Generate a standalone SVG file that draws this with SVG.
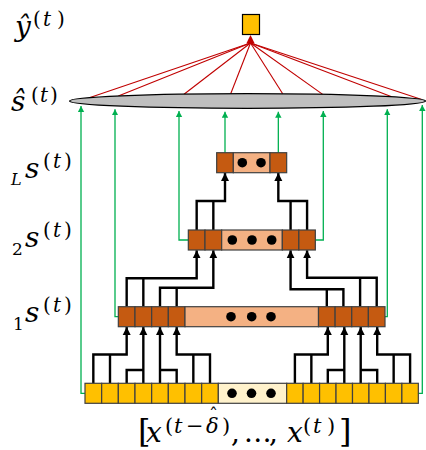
<svg xmlns="http://www.w3.org/2000/svg" width="426" height="450" viewBox="0 0 426 450">
<style>
.cy{fill:#FFC000;stroke:#404040;stroke-width:1.2}
.cyl{fill:#FFF2CC;stroke:#404040;stroke-width:1.2}
.co{fill:#C55A11;stroke:#404040;stroke-width:1.2}
.col{fill:#F4B183;stroke:#404040;stroke-width:1.2}
.dot{fill:#000}
.wire{stroke:#000;stroke-width:2.4;fill:none;stroke-linejoin:miter}
.arr{marker-end:url(#ab)}
.green{stroke:#00B050;stroke-width:1.3;fill:none;marker-end:url(#ag)}
.red{stroke:#C00000;stroke-width:1.1;fill:none}
.m{font-family:"DejaVu Serif","Liberation Serif",serif;fill:#000}
.i{font-style:italic}
.sup{font-size:20px}
</style>
<defs>
<marker id="ab" markerUnits="userSpaceOnUse" markerWidth="9" markerHeight="9" refX="8" refY="4" orient="auto" viewBox="0 0 9 8">
<path d="M0,0 L8,4 L0,8 z" fill="#000"/>
</marker>
<marker id="ag" markerUnits="userSpaceOnUse" markerWidth="7" markerHeight="7" refX="6" refY="3.2" orient="auto" viewBox="0 0 7 6.4">
<path d="M0,0 L6,3.2 L0,6.4 z" fill="#00B050"/>
</marker>
</defs>

<g id="connectors">
<g class="red">
<path d="M250.5,43 L90,97.6"/>
<path d="M250.5,43 L118.3,96"/>
<path d="M250.5,43 L184,94.2"/>
<path d="M250.5,43 L230.7,93.7"/>
<path d="M250.5,43 L282.7,93.8"/>
<path d="M250.5,43 L322.7,94.4"/>
<path d="M250.5,43 L391.7,96.7"/>
<path d="M250.5,43 L421.7,99.5"/>
</g>
<polygon points="250.5,35 246.3,43.5 254.7,43.5" fill="#C00000"/>
<path class="green" d="M85,393.3 H81 V106"/>
<path class="green" d="M118.33,316.7 H115 V109.3"/>
<path class="green" d="M188.33,240 H179 V111"/>
<path class="green" d="M225,152.7 V111.7"/>
<path class="green" d="M278.33,152.7 V111.7"/>
<path class="green" d="M315.33,240 H323.3 V111"/>
<path class="green" d="M385,316.7 H387.3 V109.3"/>
<path class="green" d="M418.33,393.3 H422.3 V105"/>
<path class="wire arr" d="M93.33,383.3 V354.5 H126.67 V327"/>
<path class="wire" d="M110,383.3 V354.5"/>
<path class="wire" d="M126.67,383.3 V370 H143.33"/>
<path class="wire arr" d="M143.33,383.3 V327"/>
<path class="wire" d="M176.67,383.3 V370 H160"/>
<path class="wire arr" d="M160,383.3 V327"/>
<path class="wire arr" d="M210,383.3 V354.5 H176.67 V327"/>
<path class="wire" d="M193.33,383.3 V354.5"/>
<path class="wire arr" d="M294.9,383.3 V354.5 H327.8 V327"/>
<path class="wire" d="M311.35,383.3 V354.5"/>
<path class="wire" d="M327.8,383.3 V370 H344.3"/>
<path class="wire arr" d="M344.3,383.3 V327"/>
<path class="wire" d="M377.2,383.3 V370 H360.7"/>
<path class="wire arr" d="M360.7,383.3 V327"/>
<path class="wire arr" d="M410.1,383.3 V354.5 H377.2 V327"/>
<path class="wire" d="M393.65,383.3 V354.5"/>
<path class="wire arr" d="M126.67,306.7 V278.3 H196.67 V250.3"/>
<path class="wire" d="M143.33,306.7 V278.3"/>
<path class="wire arr" d="M160,306.7 V287.7 H213.33 V250.3"/>
<path class="wire" d="M176.67,306.7 V287.7"/>
<path class="wire arr" d="M343.4,306.7 V289.3 H290.58 V250.3"/>
<path class="wire" d="M326.8,306.7 V289.3"/>
<path class="wire arr" d="M376.7,306.7 V277.7 H307.08 V250.3"/>
<path class="wire" d="M360.1,306.7 V277.7"/>
<path class="wire arr" d="M196.67,230 V201 H225 V173"/>
<path class="wire" d="M213.33,230 V201"/>
<path class="wire arr" d="M307.08,230 V201 H278.33 V173"/>
<path class="wire" d="M290.58,230 V201"/>
</g>

<g id="y-hat">
<rect x="242.5" y="14.5" width="17" height="20" fill="#FFC000" stroke="#000" stroke-width="1.2"/>
<text class="m i" x="15" y="36" font-size="28">ŷ</text>
<text class="m sup" y="26"><tspan x="33">(</tspan><tspan class="i" x="43">t</tspan><tspan x="57">)</tspan></text>
</g>

<g id="s-hat">
<ellipse cx="247.5" cy="101" rx="178" ry="7.3" fill="#BFBFBF" stroke="#000" stroke-width="1.3"/>
<text class="m i" x="11" y="111" font-size="28">ŝ</text>
<text class="m sup" y="102"><tspan x="31">(</tspan><tspan class="i" x="40">t</tspan><tspan x="50">)</tspan></text>
</g>

<g id="level-L">
<rect class="co" x="216.67" y="152.7" width="16.66" height="20"/>
<rect class="col" x="233.33" y="152.7" width="36.67" height="20"/>
<rect class="co" x="270" y="152.7" width="16.67" height="20"/>
<circle class="dot" cx="242.3" cy="162.7" r="4.8"/>
<circle class="dot" cx="261" cy="162.7" r="4.8"/>
<text class="m i" x="11" y="185" font-size="16">L</text>
<text class="m i" x="25" y="178" font-size="28">s</text>
<text class="m sup" y="168"><tspan x="43">(</tspan><tspan class="i" x="53">t</tspan><tspan x="64">)</tspan></text>
</g>

<g id="level-2">
<rect class="co" x="188.33" y="230" width="16.67" height="20"/>
<rect class="co" x="205" y="230" width="16.67" height="20"/>
<rect class="col" x="221.67" y="230" width="60.66" height="20"/>
<rect class="co" x="282.33" y="230" width="16.5" height="20"/>
<rect class="co" x="298.83" y="230" width="16.5" height="20"/>
<circle class="dot" cx="232.3" cy="240" r="4.8"/>
<circle class="dot" cx="252" cy="240" r="4.8"/>
<circle class="dot" cx="271.7" cy="240" r="4.8"/>
<text class="m" x="12" y="255" font-size="17">2</text>
<text class="m i" x="25" y="247" font-size="28">s</text>
<text class="m sup" y="237"><tspan x="43">(</tspan><tspan class="i" x="53">t</tspan><tspan x="64">)</tspan></text>
</g>

<g id="level-1">
<rect class="co" x="118.33" y="306.7" width="16.67" height="20"/>
<rect class="co" x="135" y="306.7" width="16.67" height="20"/>
<rect class="co" x="151.67" y="306.7" width="16.66" height="20"/>
<rect class="co" x="168.33" y="306.7" width="16.67" height="20"/>
<rect class="col" x="185" y="306.7" width="133.5" height="20"/>
<rect class="co" x="318.5" y="306.7" width="16.625" height="20"/>
<rect class="co" x="335.125" y="306.7" width="16.625" height="20"/>
<rect class="co" x="351.75" y="306.7" width="16.625" height="20"/>
<rect class="co" x="368.375" y="306.7" width="16.625" height="20"/>
<circle class="dot" cx="231" cy="316.7" r="4.8"/>
<circle class="dot" cx="251.7" cy="316.7" r="4.8"/>
<circle class="dot" cx="271" cy="316.7" r="4.8"/>
<text class="m" x="13" y="330" font-size="17">1</text>
<text class="m i" x="25" y="322" font-size="28">s</text>
<text class="m sup" y="312"><tspan x="43">(</tspan><tspan class="i" x="53">t</tspan><tspan x="64">)</tspan></text>
</g>

<g id="input">
<rect class="cy" x="85" y="383.3" width="16.67" height="20"/>
<rect class="cy" x="101.67" y="383.3" width="16.66" height="20"/>
<rect class="cy" x="118.33" y="383.3" width="16.67" height="20"/>
<rect class="cy" x="135" y="383.3" width="16.67" height="20"/>
<rect class="cy" x="151.67" y="383.3" width="16.66" height="20"/>
<rect class="cy" x="168.33" y="383.3" width="16.67" height="20"/>
<rect class="cy" x="185" y="383.3" width="16.67" height="20"/>
<rect class="cy" x="201.67" y="383.3" width="16.66" height="20"/>
<rect class="cyl" x="218.33" y="383.3" width="68.34" height="20"/>
<rect class="cy" x="286.67" y="383.3" width="16.46" height="20"/>
<rect class="cy" x="303.13" y="383.3" width="16.45" height="20"/>
<rect class="cy" x="319.58" y="383.3" width="16.46" height="20"/>
<rect class="cy" x="336.04" y="383.3" width="16.46" height="20"/>
<rect class="cy" x="352.5" y="383.3" width="16.46" height="20"/>
<rect class="cy" x="368.96" y="383.3" width="16.46" height="20"/>
<rect class="cy" x="385.42" y="383.3" width="16.46" height="20"/>
<rect class="cy" x="401.88" y="383.3" width="16.45" height="20"/>
<circle class="dot" cx="232" cy="393.3" r="4.8"/>
<circle class="dot" cx="251.5" cy="393.3" r="4.8"/>
<circle class="dot" cx="271" cy="393.3" r="4.8"/>
<text class="m" x="138" y="442" font-size="32">[</text>
<text class="m i" x="146" y="442" font-size="28">x</text>
<text class="m" y="433" font-size="21"><tspan x="165">(</tspan><tspan class="i" x="174">t</tspan><tspan x="186">−</tspan><tspan class="i" x="206">δ</tspan><tspan x="222">)</tspan></text>
<text class="m" x="209" y="422" font-size="18">ˆ</text>
<text class="m" x="231" y="442" font-size="28" textLength="47" lengthAdjust="spacing">, …,</text>
<text class="m i" x="287" y="442" font-size="28">x</text>
<text class="m" y="433" font-size="21"><tspan x="303">(</tspan><tspan class="i" x="313">t</tspan><tspan x="327">)</tspan></text>
<text class="m" x="339" y="442" font-size="32">]</text>
</g>
</svg>
